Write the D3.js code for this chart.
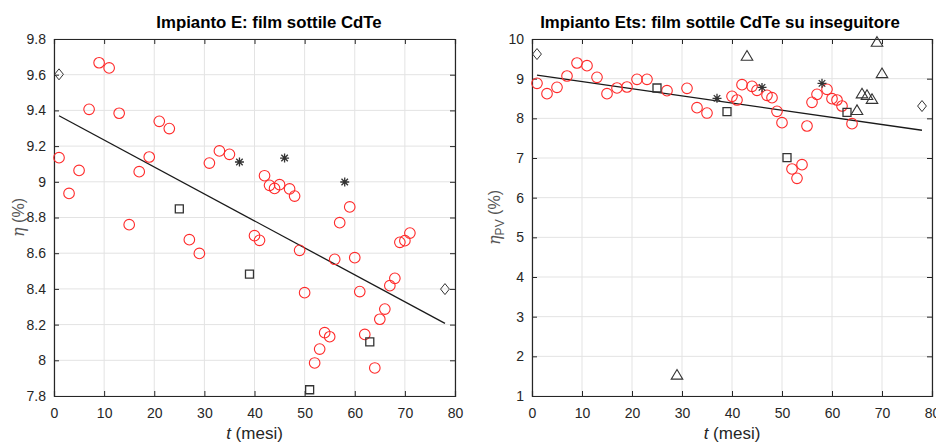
<!DOCTYPE html>
<html>
<head>
<meta charset="utf-8">
<script src="https://cdn.jsdelivr.net/npm/d3@7"></script>
<style>
  body { margin: 0; background: #fff; }
  text { font-family: "Liberation Sans", Arial, sans-serif; }
</style>
</head>
<body>
<svg id="svg1"></svg>
<script>
// ---- data ----
// Impianto E
let tCircE = [1,3,5,7,9,11,13,15,17,19,21,23,27,29,31,33,35,40,41,42,43,44,45,47,48,49,50,52,53,54,55,56,57,59,60,61,62,64,65,66,67,68,69,70,71];
let etaCircE = [9.135,8.935,9.064,9.406,9.667,9.638,9.384,8.760,9.057,9.139,9.339,9.298,8.676,8.599,9.105,9.173,9.154,8.698,8.672,9.034,8.98,8.963,8.984,8.96,8.92,8.616,8.379,7.985,8.063,8.155,8.132,8.566,8.771,8.859,8.575,8.385,8.145,7.957,8.23,8.287,8.418,8.459,8.661,8.67,8.713];
let tStarE = [37,46,58], etaStarE = [9.111,9.133,8.999];
let tSqE = [25,39,51,63], etaSqE = [8.848,8.483,7.835,8.103];
let tDiaE = [1,78], etaDiaE = [9.602,8.399];
let tFitE = [1,78], etaFitE = [9.37,8.207];

// Impianto Ets
let tCircEts = [1,3,5,7,9,11,13,15,17,19,21,23,27,31,33,35,40,41,42,44,45,47,48,49,50,52,53,54,55,56,57,59,60,61,62,64];
let etaCircEts = [8.882,8.622,8.782,9.067,9.395,9.328,9.034,8.622,8.765,8.79,8.983,8.983,8.697,8.756,8.269,8.134,8.555,8.462,8.849,8.807,8.706,8.58,8.521,8.176,7.891,6.723,6.487,6.832,7.807,8.403,8.605,8.731,8.496,8.462,8.311,7.866];
let tStarEts = [37,46,58], etaStarEts = [8.504,8.78,8.882];
let tSqEts = [25,39,51,63], etaSqEts = [8.765,8.168,7.01,8.151];
let tTriEts = [29,43,65,66,67,68,69,70], etaTriEts = [1.53,9.57,8.2,8.62,8.58,8.48,9.92,9.13];
let tDiaEts = [1,78], etaDiaEts = [9.62,8.31];
let tFitEts = [1,78], etaFitEts = [9.09,7.70];

let xTicks = [0,10,20,30,40,50,60,70,80];
let yTicksE = [7.8,8,8.2,8.4,8.6,8.8,9,9.2,9.4,9.6,9.8];
let yTicksEts = [1,2,3,4,5,6,7,8,9,10];

const width = 936, height = 442;
const svg = d3.select('#svg1').attr('width', width).attr('height', height);

const axCol = '#262626', gridCol = '#e3e3e3';

// marker paths
let marker = {
  square: s => `M${-s},${-s}H${s}V${s}H${-s}Z`,
  diamond: s => `M0,${-s}L${s*0.8},0L0,${s}L${-s*0.8},0Z`,
  triangle: s => `M0,${-s}L${s*1.05},${s*0.75}L${-s*1.05},${s*0.75}Z`,
  star: s => {
    let d = `M${-s},0H${s}M0,${-s}V${s}`;
    let k = s * 0.72;
    return d + `M${-k},${-k}L${k},${k}M${-k},${k}L${k},${-k}`;
  }
};

function zip(a, b) { return a.map((v, i) => [v, b[i]]); }

function panel(opt) {
  let m = opt.box;
  let x = d3.scaleLinear().domain([0, 80]).range([m.left, m.right]);
  let y = d3.scaleLinear().domain(opt.ydom).range([m.bottom, m.top]);
  let g = svg.append('g');

  // grid
  g.append('g').selectAll('line').data(xTicks).join('line')
    .attr('x1', d => x(d)).attr('x2', d => x(d))
    .attr('y1', m.top).attr('y2', m.bottom)
    .attr('stroke', gridCol).attr('stroke-width', 1);
  g.append('g').selectAll('line').data(opt.yticks).join('line')
    .attr('y1', d => y(d)).attr('y2', d => y(d))
    .attr('x1', m.left).attr('x2', m.right)
    .attr('stroke', gridCol).attr('stroke-width', 1);

  // axes (ticks inward, box on)
  let fmt = opt.fmt;
  g.append('g').attr('transform', `translate(0,${m.bottom})`)
    .call(d3.axisBottom(x).tickValues(xTicks).tickSize(-5).tickPadding(12).tickFormat(d3.format('d')));
  g.append('g').attr('transform', `translate(0,${m.top})`)
    .call(d3.axisTop(x).tickValues(xTicks).tickSize(-5).tickFormat(''));
  g.append('g').attr('transform', `translate(${m.left},0)`)
    .call(d3.axisLeft(y).tickValues(opt.yticks).tickSize(-5).tickPadding(8).tickFormat(fmt));
  g.append('g').attr('transform', `translate(${m.right},0)`)
    .call(d3.axisRight(y).tickValues(opt.yticks).tickSize(-5).tickFormat(''));
  g.selectAll('.domain').attr('stroke', axCol).attr('stroke-width', 1.2);
  g.selectAll('.tick line').attr('stroke', axCol);
  g.selectAll('.tick text').attr('fill', axCol).attr('font-size', 14)
    .attr('font-family', '"Liberation Sans", Arial, sans-serif');

  // fit line
  g.append('path').datum(zip(opt.fit[0], opt.fit[1]))
    .attr('d', d3.line().x(d => x(d[0])).y(d => y(d[1])))
    .attr('fill', 'none').attr('stroke', '#1a1a1a').attr('stroke-width', 1.3);

  // markers
  g.append('g').selectAll('circle').data(zip(opt.circ[0], opt.circ[1])).join('circle')
    .attr('cx', d => x(d[0])).attr('cy', d => y(d[1])).attr('r', 5.3)
    .attr('fill', 'none').attr('stroke', '#ff2a2a').attr('stroke-width', 1.1);

  let sym = (data, type, s, sw) => g.append('g').selectAll('path').data(zip(data[0], data[1])).join('path')
    .attr('transform', d => `translate(${x(d[0])},${y(d[1])})`)
    .attr('d', marker[type](s))
    .attr('fill', 'none').attr('stroke', '#333').attr('stroke-width', sw);
  sym(opt.sq, 'square', 4, 1.3);
  sym(opt.dia, 'diamond', 5.5, 1);
  sym(opt.star, 'star', 4.5, 1.3);
  if (opt.tri) sym(opt.tri, 'triangle', 5.5, 1.1);

  // title
  svg.append('text').attr('x', opt.titleX).attr('y', 28)
    .attr('text-anchor', 'middle').attr('font-size', 16.8).attr('font-weight', 'bold')
    .attr('fill', '#000').text(opt.title);

  // x label
  let xl = svg.append('text').attr('x', (m.left + m.right) / 2).attr('y', 439)
    .attr('text-anchor', 'middle').attr('font-size', 17).attr('fill', axCol);
  xl.append('tspan').attr('font-style', 'italic').text('t');
  xl.append('tspan').text(' (mesi)');

  // y label
  let yl = svg.append('text')
    .attr('transform', `translate(${opt.ylabX},${(m.top + m.bottom) / 2}) rotate(-90)`)
    .attr('text-anchor', 'middle').attr('font-size', 16).attr('fill', '#555');
  yl.append('tspan').attr('font-style', 'italic').attr('font-family', '"DejaVu Serif", serif').text('η');
  if (opt.sub) yl.append('tspan').attr('font-size', 12).attr('dy', 4).text(opt.sub);
  yl.append('tspan').attr('dy', opt.sub ? -4 : 0).text(' (%)');
}

panel({
  box: {left: 54, right: 455, top: 39, bottom: 396},
  ydom: [7.8, 9.8], yticks: yTicksE,
  fmt: d => d3.format('')(+d.toFixed(1)),
  circ: [tCircE, etaCircE], star: [tStarE, etaStarE], sq: [tSqE, etaSqE], dia: [tDiaE, etaDiaE],
  fit: [tFitE, etaFitE],
  title: 'Impianto E: film sottile CdTe', titleX: 269, ylabX: 24
});

panel({
  box: {left: 532, right: 932, top: 39, bottom: 396},
  ydom: [1, 10], yticks: yTicksEts,
  fmt: d3.format('d'),
  circ: [tCircEts, etaCircEts], star: [tStarEts, etaStarEts], sq: [tSqEts, etaSqEts], dia: [tDiaEts, etaDiaEts],
  tri: [tTriEts, etaTriEts],
  fit: [tFitEts, etaFitEts],
  title: 'Impianto Ets: film sottile CdTe su inseguitore', titleX: 720, ylabX: 500, sub: 'PV'
});
</script>
</body>
</html>
